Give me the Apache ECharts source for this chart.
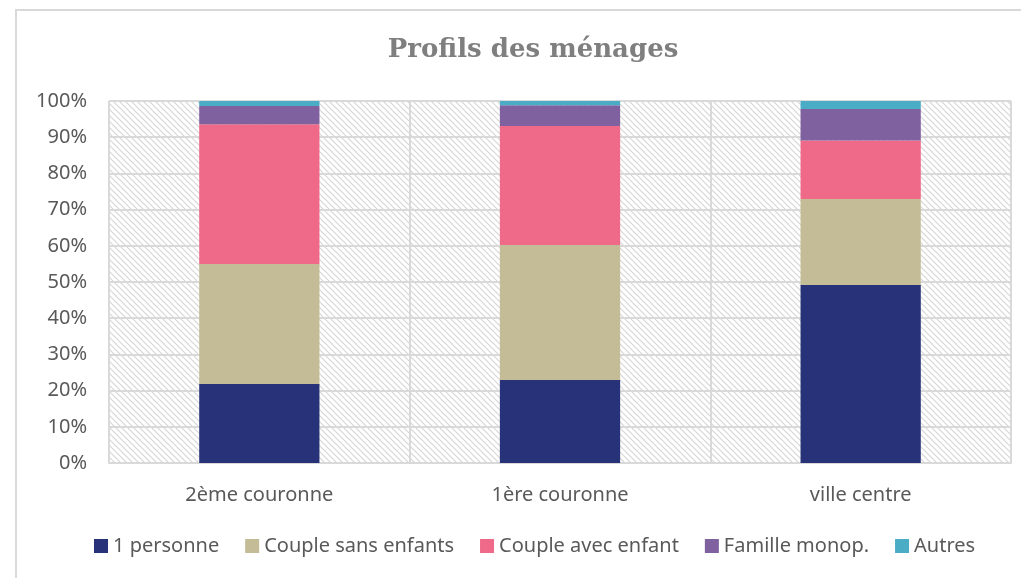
<!DOCTYPE html>
<html>
<head>
<meta charset="utf-8">
<script src="https://cdn.jsdelivr.net/npm/echarts@6/dist/echarts.min.js"></script>
<style>
  html, body { margin: 0; padding: 0; background: #fff; }
  #frame { position: absolute; left: 15px; top: 9px; width: 1100px; height: 700px; border-left: 2px solid #d9d9d9; border-top: 2px solid #d9d9d9; }
  #chart { position: absolute; left: 0; top: 0; width: 1021px; height: 578px; }
</style>
</head>
<body>
<div id="frame"></div>
<div id="chart"></div>
<script>
// zones
var categories = ['2ème couronne', '1ère couronne', 'ville centre'];

// part des ménages (%) par profil
var unePersonne = [21.8, 22.9, 49.2];
var coupleSansEnfants = [33.2, 37.3, 23.7];
var coupleAvecEnfant = [38.6, 32.9, 16.2];
var familleMonop = [5.0, 5.7, 8.7];
var autres = [1.4, 1.2, 2.2];

var seriesNames = ['1 personne', 'Couple sans enfants', 'Couple avec enfant', 'Famille monop.', 'Autres'];
var seriesData = [unePersonne, coupleSansEnfants, coupleAvecEnfant, familleMonop, autres];
var colors = ['#283278', '#c4bc96', '#ee6a88', '#7f61a0', '#4bacc6'];

// motif hachuré du fond (diagonales)
function makeHatch() {
    var c = document.createElement('canvas');
    c.width = 6;
    c.height = 6;
    var ctx = c.getContext('2d');
    ctx.fillStyle = '#ffffff';
    ctx.fillRect(0, 0, 6, 6);
    ctx.strokeStyle = '#d6d6d6';
    ctx.lineWidth = 1.2;
    ctx.beginPath();
    ctx.moveTo(-1, -1); ctx.lineTo(7, 7);
    ctx.moveTo(-1, 5); ctx.lineTo(1, 7);
    ctx.moveTo(5, -1); ctx.lineTo(7, 1);
    ctx.stroke();
    return c;
}

var chart = echarts.init(document.getElementById('chart'), null, { renderer: 'canvas' });

var series = [];
for (var i = 0; i < seriesNames.length; i++) {
    series.push({
        name: seriesNames[i],
        type: 'bar',
        stack: 'total',
        barWidth: '40%',
        data: seriesData[i],
        itemStyle: { color: colors[i] }
    });
}

var labelFont = 'Noto Sans';
var labelSize = 20;

var option = {
    animation: false,
    color: colors,
    title: {
        text: 'Profils des ménages',
        left: 528,
        top: 32,
        textAlign: 'center',
        textStyle: {
            fontFamily: 'DejaVu Serif',
            fontWeight: 'bold',
            fontSize: 26,
            color: '#7f7f7f'
        }
    },
    legend: {
        bottom: 17,
        left: 89,
        itemWidth: 14,
        itemHeight: 14,
        itemGap: 26,
        icon: 'rect',
        textStyle: {
            fontFamily: labelFont,
            fontSize: labelSize,
            color: '#595959'
        }
    },
    grid: {
        left: 109,
        right: 10,
        top: 101,
        bottom: 115,
        show: true,
        borderWidth: 0,
        backgroundColor: { image: makeHatch(), repeat: 'repeat' }
    },
    xAxis: {
        type: 'category',
        data: categories,
        axisLine: { lineStyle: { color: '#d9d9d9', width: 2 } },
        axisTick: { show: false },
        axisLabel: {
            margin: 22,
            fontFamily: labelFont,
            fontSize: labelSize,
            color: '#595959'
        },
        splitLine: { show: true, lineStyle: { color: '#d9d9d9', width: 2 } }
    },
    yAxis: {
        type: 'value',
        min: 0,
        max: 100,
        interval: 10,
        axisLine: { show: false },
        axisTick: { show: false },
        axisLabel: {
            formatter: '{value}%',
            margin: 22,
            fontFamily: labelFont,
            fontSize: labelSize,
            color: '#595959'
        },
        splitLine: { lineStyle: { color: '#d9d9d9', width: 2 } }
    },
    series: series
};

chart.setOption(option);
</script>
</body>
</html>
